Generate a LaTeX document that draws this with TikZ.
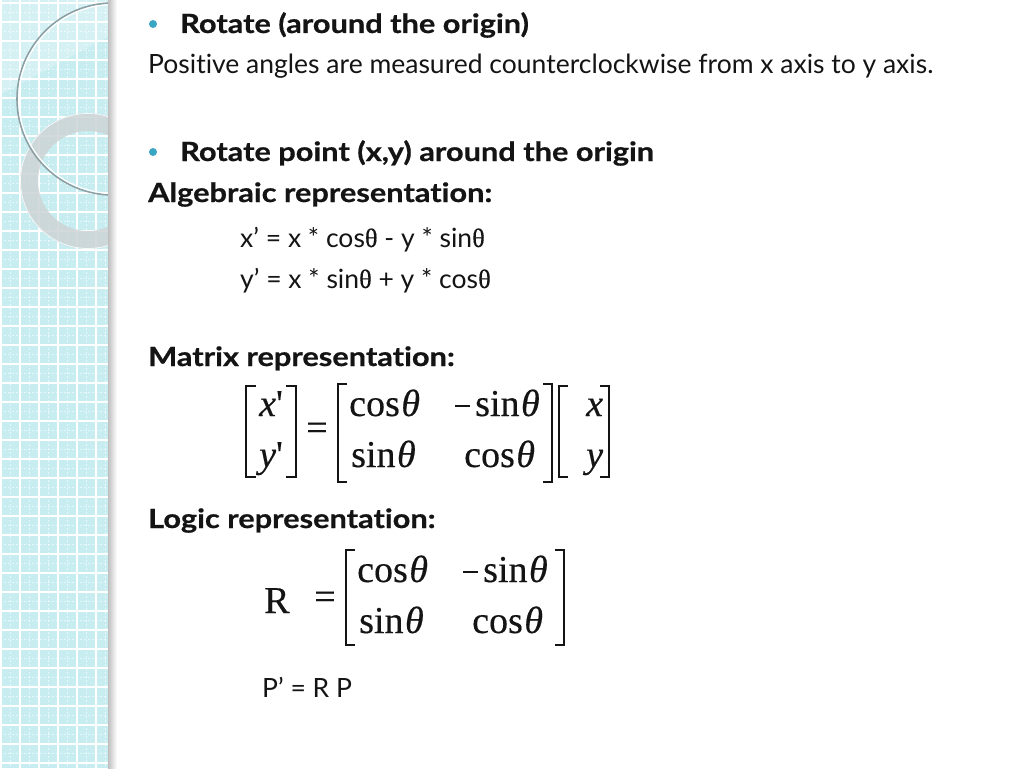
\documentclass[tikz,border=0pt]{standalone}
\usepackage{fontspec}
\setmainfont{Lato}[Ligatures=CommonOff,BoldFeatures={FakeStretch=1.16,FakeBold=0.6}]
\newfontfamily\tms{Liberation Serif}[FakeBold=0.35]
\definecolor{bandcyan}{RGB}{199,237,240}
\definecolor{bullet}{RGB}{58,166,196}
\definecolor{txt}{RGB}{20,20,20}
\definecolor{ringgray}{RGB}{205,212,213}
\definecolor{circgray}{RGB}{140,160,165}
\tikzset{
  body/.style={anchor=base west,inner sep=0pt,text=txt,font=\fontsize{26.5}{30}\selectfont},
  head/.style={body,font=\fontsize{26.5}{30}\selectfont\bfseries},
  mtx/.style={anchor=base west,inner sep=0pt,text=txt,font=\fontsize{38}{42}\selectfont\tms},
  brk/.style={draw=txt,line width=2.2pt},
  dot/.style={circle,fill=bullet,inner sep=0pt,minimum size=8pt}
}
\newcommand{\mytheta}{\kern1.5pt{\itshape θ}}
\newcommand{\mymin}{\rule[0.24em]{15pt}{1.6pt}\kern5pt}
\begin{document}
\begin{tikzpicture}[x=1pt,y=-1pt]
\useasboundingbox (0,0) rectangle (1024,768);
\fill[white] (0,0) rectangle (1024,768);
% decorative band
\begin{scope}
\clip (0,0) rectangle (111,768);
\fill[bandcyan] (0,0) rectangle (111,768);
\fill[white,opacity=0.25] (0,0) -- (111,0) -- (111,35) -- (0,95) -- cycle;
\foreach \i in {0,...,6} {
  \draw[white,line width=1.2pt] (\i*19+1,0) -- (\i*19+1,768);
  \draw[white,line width=0.5pt,opacity=0.6,dash pattern=on 2pt off 2pt] (\i*19+10.5,0) -- (\i*19+10.5,768);
}
\foreach \j in {0,...,41} {
  \draw[white,line width=1.2pt] (0,\j*19+3) -- (111,\j*19+3);
  \draw[white,line width=0.5pt,opacity=0.6,dash pattern=on 2pt off 2pt] (0,\j*19+12.5) -- (111,\j*19+12.5);
}
\fill[ringgray,fill opacity=0.85,even odd rule] (88,181) circle[radius=68] (88,181) circle[radius=50];
\draw[white,line width=0.8pt,opacity=0.8] (88,181) circle[radius=67.5];
\draw[circgray,line width=1.6pt] (113,99) circle[radius=96];
\draw[white,line width=1.2pt] (113,99) circle[radius=94.3];
\end{scope}
\shade[left color=black!25,right color=white] (108,0) rectangle (117,768);
% text
\node[dot] (b1) at (153,24) {};
\node[head] (t1) at (180,33) {Rotate (around the origin)};
\node[body] (t2) at (148,74) {Positive angles are measured counterclockwise from x axis to y axis.};
\node[dot] (b2) at (153,152) {};
\node[head] (t3) at (180,161) {Rotate point (x,y) around the origin};
\node[head] (t4) at (148,202) {Algebraic representation:};
\node[body] (t5) at (240,247) {x’ = x * cos{\tms θ} - y * sin{\tms θ}};
\node[body] (t6) at (240,288) {y’ = x * sin{\tms θ} + y * cos{\tms θ}};
\node[head] (t7) at (148,366) {Matrix representation:};
% matrix 1
\draw[brk] (256,386) -- (246,386) -- (246,477) -- (256,477);
\draw[brk] (286,386) -- (296,386) -- (296,477) -- (286,477);
\node[mtx] (xp) at (259,416) {\itshape x\upshape '};
\node[mtx] (yp) at (259,467) {\itshape y\upshape '};
\node[mtx] (eq1) at (306,440) {=};
\draw[brk] (347,384) -- (338,384) -- (338,482) -- (347,482);
\draw[brk] (543,384) -- (552,384) -- (552,482) -- (543,482);
\node[mtx] (a11) at (349,416) {cos\mytheta};
\node[mtx] (a12) at (455,416) {\mymin sin\mytheta};
\node[mtx] (a21) at (351,467) {sin\mytheta};
\node[mtx] (a22) at (464,467) {cos\mytheta};
\draw[brk] (568,386) -- (559,386) -- (559,477) -- (568,477);
\draw[brk] (600,386) -- (609,386) -- (609,477) -- (600,477);
\node[mtx] (vx) at (586,416) {\itshape x};
\node[mtx] (vy) at (586,467) {\itshape y};
\node[head] (t8) at (148,528) {Logic representation:};
% matrix 2
\node[mtx] (R) at (264,613) {R};
\node[mtx] (eq2) at (314,609) {=};
\draw[brk] (355,550) -- (346,550) -- (346,645) -- (355,645);
\draw[brk] (555,550) -- (564,550) -- (564,645) -- (555,645);
\node[mtx] (b11) at (357,582) {cos\mytheta};
\node[mtx] (b12) at (463,582) {\mymin sin\mytheta};
\node[mtx] (b21) at (359,633) {sin\mytheta};
\node[mtx] (b22) at (472,633) {cos\mytheta};
\node[body] (t9) at (262,697) {P’ = R P};
\end{tikzpicture}
\end{document}
